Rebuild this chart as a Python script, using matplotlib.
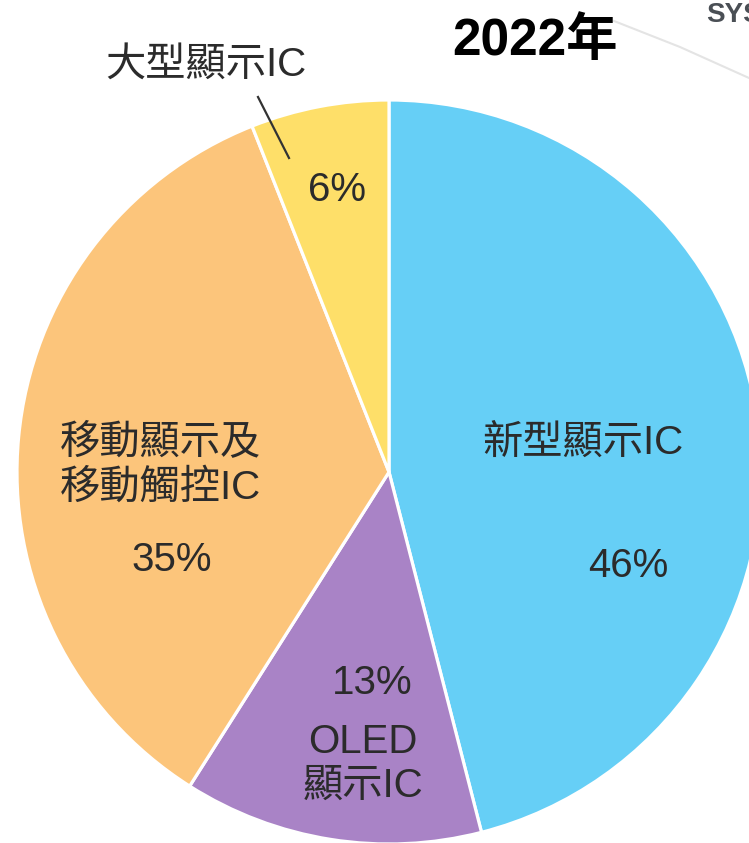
import matplotlib.pyplot as plt

# data
labels = ['新型顯示IC', 'OLED\n顯示IC', '移動顯示及\n移動觸控IC', '大型顯示IC']
shares = [46, 13, 35, 6]
colors = ['#66CFF6', '#A983C6', '#FCC57B', '#FEDF69']
title = '2022年'

W, H = 749, 843
fonts = ['Liberation Sans', 'Noto Sans CJK TC', 'DejaVu Sans']
plt.rcParams['font.family'] = fonts

fig = plt.figure(figsize=(W / 100, H / 100), dpi=100)
ax = fig.add_axes([0, 0, 1, 1])

cx, cy, r = 389, H - 472, 372
wedges, _ = ax.pie(shares, colors=colors, startangle=90, counterclock=False,
                   center=(cx, cy), radius=r,
                   wedgeprops=dict(edgecolor='white', linewidth=2.3))
ax.set_xlim(0, W)
ax.set_ylim(0, H)
ax.set_aspect('auto')
ax.axis('off')

txt = dict(color='#2B2B2B', fontsize=29, ha='center', va='center')

# 新型顯示IC
ax.text(583, H - 443, labels[0], **txt)
ax.text(628, H - 566, f'{shares[0]}%', **txt)
# OLED
ax.text(372, H - 683, f'{shares[1]}%', **txt)
ax.text(363, H - 764, labels[1], linespacing=1.2, **txt)
# 移動
ax.text(160, H - 465, labels[2], linespacing=1.25, **txt)
ax.text(172, H - 560, f'{shares[2]}%', **txt)
# 大型
ax.text(206, H - 65, labels[3], **txt)
ax.text(337, H - 190, f'{shares[3]}%', **txt)
ax.plot([258, 289], [H - 97, H - 158], color='#333333', lw=1.6)

# title
ax.text(535, H - 42, title, fontsize=37, fontweight='bold', ha='center', va='center', color='black')

# bits of the next slide peeking in at the top right
ax.plot([614, 680, 749], [H - 21, H - 47, H - 78], color='#E4E4E4', lw=1.5, zorder=0)
ax.text(706, H - 22, 'SYS', fontsize=20, fontweight='bold', color='#4A4F55',
        ha='left', va='baseline')

fig.savefig('out.png', dpi=100)
